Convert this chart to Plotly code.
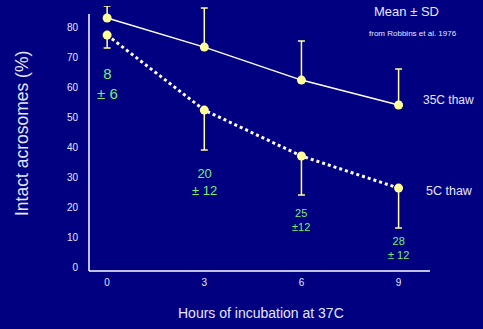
import plotly.graph_objects as go

hours = [0, 3, 6, 9]
thaw35_mean = [83, 73.3, 62.3, 54]
thaw35_sd_upper = [4, 13, 13, 12]
thaw5_mean = [77.3, 52.3, 37, 26.3]
thaw5_sd_lower = [4.3, 13.3, 13, 13.3]
diff_labels = ["8<br>± 6", "20<br>± 12", "25<br>±12", "28<br>± 12"]
diff_label_y = [61.3, 28.2, 15.8, 6.5]
diff_label_size = [15, 13, 11, 11]
y_ticks = [0, 10, 20, 30, 40, 50, 60, 70, 80]
x_ticks = [0, 3, 6, 9]

BG = "#000080"
FONT = "Liberation Sans, Arial, sans-serif"
YEL = "#FFFF99"
GREEN = "#77EE77"
TXT = "#E6E6FF"

fig = go.Figure()
fig.add_trace(go.Scatter(
    x=hours, y=thaw35_mean, mode="lines+markers",
    line=dict(color="white", width=1.5),
    marker=dict(color=YEL, size=9),
    error_y=dict(type="data", symmetric=False, array=thaw35_sd_upper,
                 arrayminus=[0] * len(hours), color=YEL, thickness=1.5, width=3.5),
    cliponaxis=False, showlegend=False))
fig.add_trace(go.Scatter(
    x=hours, y=thaw5_mean, mode="lines+markers",
    line=dict(color="white", width=3, dash="dot"),
    marker=dict(color=YEL, size=9),
    error_y=dict(type="data", symmetric=False, array=[0] * len(hours),
                 arrayminus=thaw5_sd_lower, color=YEL, thickness=1.5, width=3.5),
    cliponaxis=False, showlegend=False))

annotations = []
for h, t, yy, s in zip(hours, diff_labels, diff_label_y, diff_label_size):
    annotations.append(dict(x=h, y=yy, text=t, showarrow=False, xanchor="center",
                            yanchor="middle", font=dict(color=GREEN, size=s, family=FONT)))
annotations += [
    dict(x=9.69, y=55.7, text="35C thaw", showarrow=False, xanchor="left",
         font=dict(color=TXT, size=12, family=FONT)),
    dict(x=9.78, y=25.5, text="5C thaw", showarrow=False, xanchor="left",
         font=dict(color=TXT, size=12.5, family=FONT)),
    dict(x=(406 - 89) / 341, y=(271 - 12) / 265, xref="paper", yref="paper",
         text="Mean ± SD", showarrow=False, xanchor="center", yanchor="middle",
         font=dict(color=TXT, size=13, family=FONT)),
    dict(x=(413 - 89) / 341, y=(271 - 34) / 265, xref="paper", yref="paper",
         text="from Robbins et al. 1976", showarrow=False, xanchor="center",
         yanchor="middle", font=dict(color=TXT, size=8, family=FONT)),
    dict(x=(261 - 89) / 341, y=(271 - 313) / 265, xref="paper", yref="paper",
         text="Hours of incubation at 37C", showarrow=False, xanchor="center",
         yanchor="middle", font=dict(color=TXT, size=14, family=FONT)),
    dict(x=(22 - 89) / 341, y=(271 - 134) / 265, xref="paper", yref="paper",
         text="Intact acrosomes (%)", showarrow=False, textangle=-90,
         xanchor="center", yanchor="middle", font=dict(color=TXT, size=17.5, family=FONT)),
]

fig.update_layout(
    width=483, height=329,
    margin=dict(l=89, r=53, t=6, b=58),
    paper_bgcolor=BG, plot_bgcolor=BG,
    annotations=annotations,
    shapes=[
        dict(type="line", xref="paper", yref="y", x0=0, x1=0, y0=-1.33, y1=84.3,
             line=dict(color="white", width=1.5)),
        dict(type="line", xref="paper", yref="paper", x0=0, x1=1, y0=0, y1=0,
             line=dict(color="white", width=1.5)),
    ],
    xaxis=dict(range=[-0.56, 9.97], tickvals=x_ticks, showgrid=False, zeroline=False,
               showline=False, ticks="", ticklabelstandoff=4,
               tickfont=dict(color=TXT, size=10, family=FONT)),
    yaxis=dict(range=[-1.33, 87], tickvals=y_ticks, showgrid=False, zeroline=False,
               showline=False, ticks="", ticklabelstandoff=10,
               tickfont=dict(color=TXT, size=10, family=FONT)),
)
fig.write_html("out.html")
